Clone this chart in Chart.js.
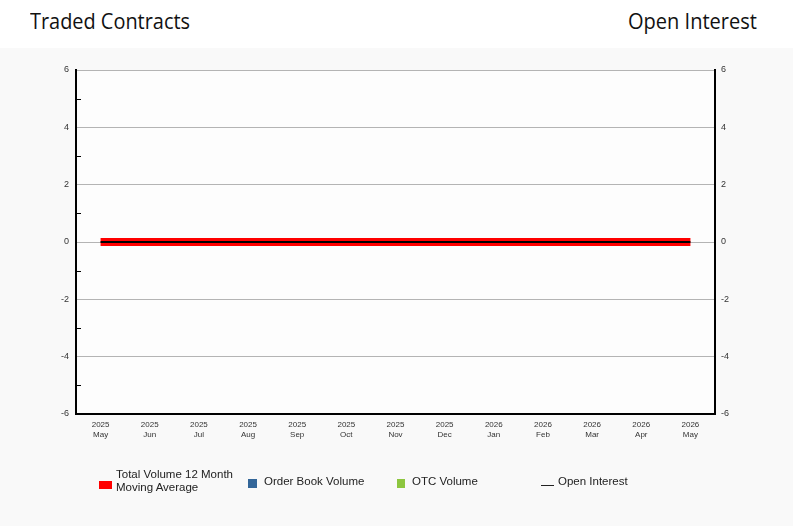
<!DOCTYPE html>
<html>
<head>
<meta charset="utf-8">
<script src="https://cdn.jsdelivr.net/npm/chart.js@4/dist/chart.umd.min.js"></script>
<style>
  html, body { margin: 0; padding: 0; background: #ffffff; width: 793px; height: 526px; overflow: hidden; }
  .title { position: absolute; top: 5px; font-family: "Open Sans", sans-serif; font-size: 22px; color: #111; white-space: nowrap; line-height: 30px; transform-origin: left top; }
  #panel { position: absolute; left: 0; top: 48px; width: 793px; height: 478px; background: #f9f9f9; }
  #c { position: absolute; left: 0; top: 0; }
  .lg { position: absolute; font-family: "Liberation Sans", Arial, sans-serif; font-size: 11.5px; color: #222; white-space: nowrap; line-height: 13px; }
  .sw { position: absolute; }
</style>
</head>
<body>
<div class="title" id="t1" style="left:30px">Traded Contracts</div>
<div class="title" id="t2" style="left:628px">Open Interest</div>
<div id="panel"><canvas id="c" width="793" height="478"></canvas></div>

<div class="sw" style="left:99px;top:481px;width:13px;height:8px;background:#ff0000"></div>
<div class="lg" style="left:116px;top:468px">Total Volume 12 Month<br>Moving Average</div>
<div class="sw" style="left:248px;top:479px;width:9px;height:9px;background:#336699"></div>
<div class="lg" style="left:264px;top:475px">Order Book Volume</div>
<div class="sw" style="left:397px;top:479px;width:8px;height:9px;background:#8dc63f"></div>
<div class="lg" style="left:412px;top:475px">OTC Volume</div>
<div class="sw" style="left:541px;top:485px;width:13px;height:1px;background:#222"></div>
<div class="lg" style="left:558px;top:475px">Open Interest</div>

<script>
// ---- data ----
const years  = ['2025','2025','2025','2025','2025','2025','2025','2025','2026','2026','2026','2026','2026'];
const months = ['May','Jun','Jul','Aug','Sep','Oct','Nov','Dec','Jan','Feb','Mar','Apr','May'];
const movingAverage   = [0,0,0,0,0,0,0,0,0,0,0,0,0];
const orderBookVolume = [0,0,0,0,0,0,0,0,0,0,0,0,0];
const otcVolume       = [0,0,0,0,0,0,0,0,0,0,0,0,0];
const openInterest    = [0,0,0,0,0,0,0,0,0,0,0,0,0];
const leftTicks  = [-6,-4,-2,0,2,4,6];
const minorTicks = [-5,-3,-1,1,3,5];

// fit titles
function fit(id, w) {
  const el = document.getElementById(id);
  const r = el.getBoundingClientRect().width;
  el.style.transform = 'scaleX(' + (w / r) + ')';
}
fit('t1', 160); fit('t2', 129);

const labels = years.map((y, i) => [y, months[i]]);

const plotBg = {
  id: 'plotBg',
  beforeDraw(chart) {
    const {ctx, chartArea: a} = chart;
    ctx.save();
    ctx.fillStyle = '#fdfdfd';
    ctx.fillRect(a.left, a.top, a.right - a.left, a.bottom - a.top);
    ctx.restore();
  }
};
const minor = {
  id: 'minor',
  afterDraw(chart) {
    const s = chart.scales.y, ctx = chart.ctx;
    ctx.save();
    ctx.strokeStyle = '#000';
    ctx.lineWidth = 1;
    minorTicks.forEach(v => {
      const y = Math.round(s.getPixelForValue(v)) + 0.5;
      ctx.beginPath();
      ctx.moveTo(chart.chartArea.left, y);
      ctx.lineTo(chart.chartArea.left + 5, y);
      ctx.stroke();
    });
    ctx.restore();
  }
};

const tickFontY = { family: '"Liberation Sans", Arial, sans-serif', size: 9 };
const tickFontX = { family: '"Liberation Sans", Arial, sans-serif', size: 8 };

new Chart(document.getElementById('c'), {
  data: {
    labels: labels,
    datasets: [
      { type: 'line', label: 'Open Interest', data: openInterest, yAxisID: 'y1',
        borderColor: '#000', borderWidth: 2, pointRadius: 0, order: 0, borderCapStyle: 'butt' },
      { type: 'line', label: 'Total Volume 12 Month Moving Average', data: movingAverage, yAxisID: 'y',
        borderColor: '#ff0000', borderWidth: 8, pointRadius: 0, order: 1, borderCapStyle: 'butt' },
      { type: 'bar', label: 'Order Book Volume', data: orderBookVolume, yAxisID: 'y',
        backgroundColor: '#336699', stack: 's', order: 2 },
      { type: 'bar', label: 'OTC Volume', data: otcVolume, yAxisID: 'y',
        backgroundColor: '#8dc63f', stack: 's', order: 2 }
    ]
  },
  options: {
    responsive: false,
    animation: false,
    layout: { padding: { top: 22, left: 0, right: 0, bottom: 0 } },
    plugins: { legend: { display: false }, tooltip: { enabled: false } },
    scales: {
      x: {
        type: 'category', offset: true, stacked: true,
        grid: { display: true, color: 'rgba(0,0,0,0)', drawTicks: false },
        border: { display: true, color: '#000', width: 2 },
        ticks: { font: tickFontX, color: '#333', padding: 6, maxRotation: 0, autoSkip: false },
        afterFit(s) { s.height = 112; }
      },
      y: {
        position: 'left', min: -6, max: 6, stacked: true,
        afterBuildTicks(s) { s.ticks = leftTicks.map(v => ({ value: v })); },
        grid: { color: '#b4b4b4', lineWidth: 1, drawTicks: false },
        border: { display: true, color: '#000', width: 2 },
        ticks: { font: tickFontY, color: '#333', padding: 7 },
        afterFit(s) { s.width = 76; }
      },
      y1: {
        position: 'right', min: -6, max: 6,
        afterBuildTicks(s) { s.ticks = leftTicks.map(v => ({ value: v })); },
        grid: { drawOnChartArea: false, drawTicks: false },
        border: { display: true, color: '#000', width: 2 },
        ticks: { font: tickFontY, color: '#333', padding: 6 },
        afterFit(s) { s.width = 78; }
      }
    }
  },
  plugins: [plotBg, minor]
});
</script>
</body>
</html>
